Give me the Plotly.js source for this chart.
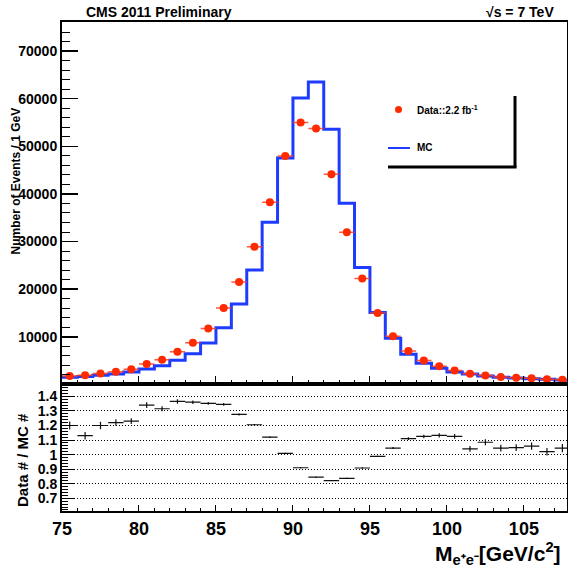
<!DOCTYPE html>
<html>
<head>
<meta charset="utf-8">
<script src="https://cdn.plot.ly/plotly-3.0.1.min.js"></script>
<style>
  html, body { margin: 0; padding: 0; background: #fff; }
  #chart { width: 568px; height: 573px; }
</style>
</head>
<body>
<div id="chart"></div>
<script>
// ---- data ----
const binCenters = [75.5, 76.5, 77.5, 78.5, 79.5, 80.5, 81.5, 82.5, 83.5, 84.5, 85.5,
  86.5, 87.5, 88.5, 89.5, 90.5, 91.5, 92.5, 93.5, 94.5, 95.5, 96.5, 97.5, 98.5, 99.5,
  100.5, 101.5, 102.5, 103.5, 104.5, 105.5, 106.5, 107.5];
const mcCounts = [1490, 1680, 1900, 2180, 2600, 3230, 3930, 5050, 6440, 8680, 11900,
  16870, 24000, 34070, 47560, 60140, 63500, 53580, 38050, 24560, 15120, 9670, 6310,
  4420, 3370, 2600, 2180, 1760, 1490, 1340, 1200, 1070, 920];
const dataCounts = [1780, 1900, 2300, 2660, 3200, 4300, 5170, 6850, 8760, 11750, 16020,
  21500, 28900, 38250, 47950, 54980, 53720, 44150, 31970, 22250, 14980, 10090, 7020,
  5000, 3800, 2900, 2260, 1880, 1560, 1400, 1270, 1090, 960];
const ratioValues = [1.20, 1.13, 1.20, 1.22, 1.23, 1.34, 1.315, 1.365, 1.36, 1.352, 1.345,
  1.276, 1.205, 1.12, 1.008, 0.91, 0.845, 0.822, 0.837, 0.908, 0.988, 1.045, 1.11,
  1.125, 1.132, 1.125, 1.04, 1.085, 1.045, 1.048, 1.058, 1.02, 1.045];
const ratioErrors = [0.027, 0.026, 0.025, 0.022, 0.02, 0.02, 0.017, 0.015, 0.012, 0.01, 0.009,
  0.007, 0.005, 0.004, 0.004, 0.004, 0.003, 0.003, 0.004, 0.004, 0.005, 0.007, 0.01,
  0.012, 0.014, 0.016, 0.02, 0.021, 0.023, 0.024, 0.025, 0.026, 0.028];
const binWidth = 1;
const topTickVals = [10000, 20000, 30000, 40000, 50000, 60000, 70000];
const topTickText = ["10000", "20000", "30000", "40000", "50000", "60000", "70000"];
const ratioTickVals = [0.7, 0.8, 0.9, 1.0, 1.1, 1.2, 1.3, 1.4];
const ratioTickText = ["0.7", "0.8", "0.9", "1", "1.1", "1.2", "1.3", "1.4"];
const xTickVals = [75, 80, 85, 90, 95, 100, 105];

// histogram step outline built from bin edges
const mcEdgesX = binCenters.map(c => c - binWidth / 2).concat([binCenters[binCenters.length - 1] + binWidth / 2]);
const mcEdgesY = mcCounts.concat([mcCounts[mcCounts.length - 1]]);

// ---- layout geometry (pixels) ----
const W = 568, H = 573;
const M = {l: 62, r: 1, t: 22, b: 62};
const PW = W - M.l - M.r, PH = H - M.t - M.b;
const splitY = 384.4;
const split = (H - M.b - splitY) / PH;
const px = x => (x - M.l) / PW;
const py = y => (H - M.b - y) / PH;

const FONT = "Liberation Sans, Arial, Helvetica, sans-serif";
const redCol = "#ff2a00";
const blueCol = "#1e3cff";

const traces = [
  {
    x: mcEdgesX, y: mcEdgesY, type: "scatter", mode: "lines",
    line: {shape: "hv", color: blueCol, width: 3},
    xaxis: "x", yaxis: "y", name: "MC", hoverinfo: "skip"
  },
  {
    x: binCenters, y: dataCounts, type: "scatter", mode: "markers",
    marker: {color: redCol, size: 8, symbol: "circle"},
    error_x: {type: "constant", value: binWidth / 2, color: "rgba(255,60,30,0.85)", thickness: 1.5, width: 0},
    xaxis: "x", yaxis: "y", name: "Data"
  },
  {
    x: binCenters, y: ratioValues, type: "scatter", mode: "markers",
    marker: {color: "#000", size: 1},
    error_x: {type: "constant", value: binWidth / 2, color: "#111", thickness: 1.2, width: 0},
    error_y: {type: "data", array: ratioErrors, color: "#111", thickness: 1.2, width: 0},
    xaxis: "x2", yaxis: "y2", name: "ratio"
  }
];

const xRange = [75, 107.8];
const axisCommon = {
  showline: true, linecolor: "#000", linewidth: 2, mirror: true,
  zeroline: false, showgrid: false, ticks: "inside", tickcolor: "#000"
};

const layout = {
  width: W, height: H,
  margin: M,
  paper_bgcolor: "#fff", plot_bgcolor: "#fff",
  showlegend: false,
  font: {family: FONT, color: "#000", weight: "bold"},
  xaxis: Object.assign({}, axisCommon, {
    domain: [0, 1], anchor: "y", range: xRange,
    tickvals: xTickVals, showticklabels: false, ticklen: 8, tickwidth: 1,
    minor: {tickmode: "linear", tick0: 75, dtick: 1, ticklen: 4, tickwidth: 1, tickcolor: "#000", ticks: "inside"}
  }),
  yaxis: Object.assign({}, axisCommon, {
    domain: [split, 1], anchor: "x", range: [0, 76100],
    tickmode: "array", tickvals: topTickVals, ticktext: topTickText, ticklen: 16, tickwidth: 1.5,
    tickfont: {family: FONT, size: 14, weight: "bold"},
    minor: {tickmode: "linear", tick0: 0, dtick: 2000, ticklen: 8, tickwidth: 1, tickcolor: "#000", ticks: "inside"}
  }),
  xaxis2: Object.assign({}, axisCommon, {
    domain: [0, 1], anchor: "y2", range: xRange,
    tickmode: "array", tickvals: xTickVals, ticklen: 6, tickwidth: 1,
    tickfont: {family: FONT, size: 18, weight: "bold"},
    minor: {tickmode: "linear", tick0: 75, dtick: 1, ticklen: 3, tickwidth: 1, tickcolor: "#000", ticks: "inside"}
  }),
  yaxis2: Object.assign({}, axisCommon, {
    domain: [0, split], anchor: "x2", range: [0.613, 1.482],
    tickmode: "array", tickvals: ratioTickVals, ticktext: ratioTickText,
    ticklen: 12, tickwidth: 1,
    tickfont: {family: FONT, size: 14, weight: "bold"},
    showgrid: true, gridcolor: "#000", gridwidth: 1, griddash: "1px,2px",
    minor: {tickmode: "linear", tick0: 0.6, dtick: 0.02, ticklen: 6, tickwidth: 1, tickcolor: "#000", ticks: "inside", showgrid: false}
  }),
  shapes: [
    {type: "line", xref: "paper", yref: "paper", x0: px(515), x1: px(515), y0: py(96), y1: py(167.5), line: {color: "#000", width: 3}},
    {type: "line", xref: "paper", yref: "paper", x0: px(388), x1: px(516.5), y0: py(167), y1: py(167), line: {color: "#000", width: 3}},
    {type: "line", xref: "paper", yref: "paper", x0: px(388), x1: px(410), y0: py(148), y1: py(148), line: {color: blueCol, width: 2}},
    {type: "circle", xref: "paper", yref: "paper", x0: px(395), x1: px(402), y0: py(106), y1: py(113), fillcolor: redCol, line: {color: redCol, width: 0}}
  ],
  annotations: [
    {text: "CMS 2011 Preliminary", xref: "paper", yref: "paper", x: px(84), y: py(12), xanchor: "left", yanchor: "middle",
      showarrow: false, font: {family: FONT, size: 14, weight: "bold"}},
    {text: "√s = 7 TeV", xref: "paper", yref: "paper", x: px(556), y: py(12), xanchor: "right", yanchor: "middle",
      showarrow: false, font: {family: FONT, size: 14, weight: "bold"}},
    {text: "Data::2.2 fb<sup>-1</sup>", xref: "paper", yref: "paper", x: px(415), y: py(110), xanchor: "left", yanchor: "middle",
      showarrow: false, font: {family: FONT, size: 10, weight: "bold"}},
    {text: "MC", xref: "paper", yref: "paper", x: px(415), y: py(148), xanchor: "left", yanchor: "middle",
      showarrow: false, font: {family: FONT, size: 10, weight: "bold"}},
    {text: "Number of Events / 1 GeV", xref: "paper", yref: "paper", x: px(15.5), y: py(181), xanchor: "center", yanchor: "middle",
      textangle: -90, showarrow: false, font: {family: FONT, size: 12, weight: "bold"}},
    {text: "Data # / MC #", xref: "paper", yref: "paper", x: px(22), y: py(460), xanchor: "center", yanchor: "middle",
      textangle: -90, showarrow: false, font: {family: FONT, size: 15, weight: "bold"}},
    {text: "M<sub>e⁺e⁻</sub>[GeV/c<sup>2</sup>]", xref: "paper", yref: "paper", x: px(563), y: py(553), xanchor: "right", yanchor: "middle",
      showarrow: false, font: {family: FONT, size: 21, weight: "bold"}}
  ]
};

Plotly.newPlot("chart", traces, layout, {displayModeBar: false, staticPlot: true});
</script>
</body>
</html>
